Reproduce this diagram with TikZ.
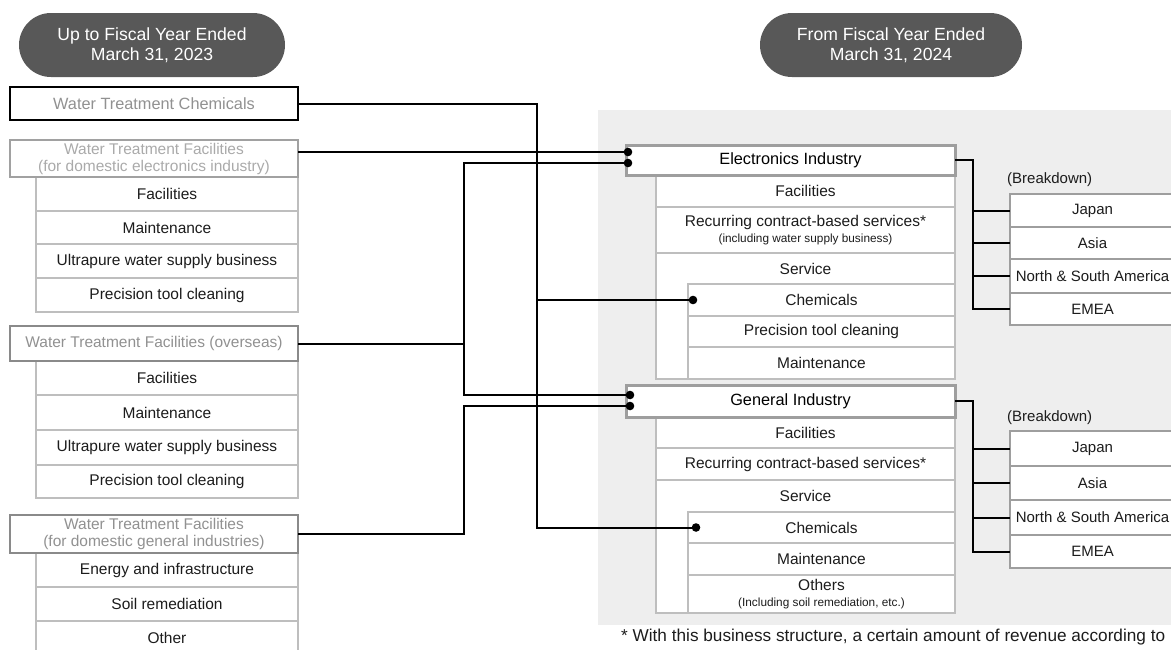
\documentclass[tikz,border=0pt]{standalone}
\usepackage{fontspec}
\setmainfont{Liberation Sans}
\usetikzlibrary{arrows.meta,positioning,calc}
\definecolor{ovalgray}{RGB}{88,88,88}
\definecolor{shadegray}{RGB}{238,238,238}
\definecolor{rowline}{RGB}{190,190,190}
\definecolor{headline}{RGB}{158,158,158}
\definecolor{oldline}{RGB}{138,138,138}
\definecolor{oldtext}{RGB}{145,145,145}
\definecolor{paletext}{RGB}{170,170,170}
\definecolor{inktext}{RGB}{28,28,28}
\newcommand{\itemrow}[6]{\node[itembox,minimum width=#4,minimum height=#5] (#1) at (#2,#3) {#6};}
\newcommand{\regionrow}[4]{\node[regionbox,minimum height=#4] (#1) at (1010,#3) {#2};}
\newcommand{\tapdot}[1]{\fill (#1) circle (4.3pt);}
\newcommand{\smallnote}{\fontsize{11.8}{12.5}\selectfont}
\tikzset{
	basebox/.style={anchor=north west,inner sep=0pt,outer sep=0pt,align=center},
	itembox/.style={basebox,draw=rowline,line width=2pt,fill=white,text=inktext,font=\fontsize{15.5}{17}\selectfont},
	oldbox/.style={basebox,fill=white,line width=2.5pt,text=oldtext,minimum width=288,font=\fontsize{15.5}{17}\selectfont},
	newbox/.style={basebox,draw=headline,fill=white,line width=3pt,text=black,minimum width=329,font=\fontsize{16.3}{18}\selectfont},
	regionbox/.style={basebox,draw=headline,line width=1.5pt,fill=white,text=inktext,minimum width=165,font=\fontsize{15}{17}\selectfont},
	yearpill/.style={fill=ovalgray,rounded corners=32pt,minimum width=266,minimum height=64,inner sep=0pt,text=white,align=center,font=\fontsize{17.6}{20}\selectfont},
	plaintext/.style={inner sep=0pt,text=inktext,font=\fontsize{15.5}{17}\selectfont},
	wire/.style={line width=2pt,draw=black}
}
\begin{document}
\begin{tikzpicture}[x=1pt,y=-1pt]
	\useasboundingbox (0,0) rectangle (1171,649);
	\fill[shadegray] (598,110) rectangle (1171,625);
	\node[yearpill] (yearold) at (152,45) {Up to Fiscal Year Ended\\March 31, 2023};
	\node[yearpill,minimum width=262] (yearnew) at (891,45) {From Fiscal Year Ended\\March 31, 2024};
	% segments up to FY2023
	\node[oldbox,draw=black,line width=2pt,minimum height=33,font=\fontsize{16.3}{18}\selectfont] (wtc) at (10,87) {Water Treatment Chemicals};
	\itemrow{wte1}{36}{177}{262}{34}{Facilities} \itemrow{wte2}{36}{211}{262}{33}{Maintenance}
	\itemrow{wte3}{36}{244}{262}{34}{Ultrapure water supply business} \itemrow{wte4}{36}{278}{262}{34}{Precision tool cleaning}
	\node[oldbox,draw=rowline!85!black,text=paletext,minimum height=37] (wte) at (10,140) {Water Treatment Facilities\\(for domestic electronics industry)};
	\itemrow{wto1}{36}{361}{262}{34}{Facilities} \itemrow{wto2}{36}{395}{262}{35}{Maintenance}
	\itemrow{wto3}{36}{430}{262}{35}{Ultrapure water supply business} \itemrow{wto4}{36}{465}{262}{33}{Precision tool cleaning}
	\node[oldbox,draw=oldline,minimum height=35] (wto) at (10,326) {Water Treatment Facilities (overseas)};
	\itemrow{wtg1}{36}{553}{262}{34}{Energy and infrastructure} \itemrow{wtg2}{36}{587}{262}{34}{Soil remediation}
	\itemrow{wtg3}{36}{621}{262}{34}{Other}
	\node[oldbox,draw=oldline,minimum height=38] (wtg) at (10,515) {Water Treatment Facilities\\(for domestic general industries)};
	% segments from FY2024
	\itemrow{elecs}{656}{253}{299}{126}{} \node[plaintext] (elecsT) at (805.5,268.5) {Service};
	\itemrow{elecc}{688}{284}{267}{32}{Chemicals} \itemrow{elecp}{688}{316}{267}{31}{Precision tool cleaning}
	\itemrow{elecm}{688}{347}{267}{32}{Maintenance}
	\itemrow{elecf}{656}{175}{299}{32}{Facilities}
	\itemrow{elecr}{656}{207}{299}{46}{Recurring contract-based services*\\[-1pt]{\smallnote(including water supply business)}}
	\node[newbox,minimum height=30] (elec) at (626,145) {Electronics Industry};
	\itemrow{gens}{656}{480}{299}{133}{} \node[plaintext] (gensT) at (805.5,496) {Service};
	\itemrow{genc}{688}{512}{267}{31}{Chemicals} \itemrow{genm}{688}{543}{267}{32}{Maintenance}
	\itemrow{geno}{688}{575}{267}{38}{Others\\[-1pt]{\smallnote(Including soil remediation, etc.)}}
	\itemrow{genf}{656}{417}{299}{31}{Facilities} \itemrow{genr}{656}{448}{299}{32}{Recurring contract-based services*}
	\node[newbox,minimum height=32] (genl) at (626,385) {General Industry};
	% regional breakdown
	\node[plaintext,anchor=west,font=\fontsize{15}{17}\selectfont] (brkE) at (1007,180) {(Breakdown)};
	\regionrow{jpE}{Japan}{194}{33} \regionrow{asE}{Asia}{227}{32}
	\regionrow{naE}{North \& South America}{259}{34} \regionrow{emE}{EMEA}{293}{32}
	\node[plaintext,anchor=west,font=\fontsize{15}{17}\selectfont] (brkG) at (1007,418) {(Breakdown)};
	\regionrow{jpG}{Japan}{431}{35} \regionrow{asG}{Asia}{466}{34}
	\regionrow{naG}{North \& South America}{500}{35} \regionrow{emG}{EMEA}{535}{33}
	\node[plaintext,anchor=west,font=\fontsize{17.2}{19}\selectfont] (starnote) at (621,637) {* With this business structure, a certain amount of revenue according to};
	% connectors
	\coordinate (busA) at (537,0); \coordinate (busB) at (464,0);
	\coordinate (dotE1) at ($(elec.west)+(2,-8)$); \coordinate (dotE2) at ($(elec.west)+(2,3)$);
	\coordinate (dotG1) at ($(genl.west)+(4,-6)$); \coordinate (dotG2) at ($(genl.west)+(4,5)$);
	\coordinate (dotCE) at ($(elecc.west)+(5,0)$); \coordinate (dotCG) at ($(genc.west)+(8,0)$);
	\draw[wire] (wtc.east) -| (busA |- dotCG) -- (dotCG);
	\draw[wire] (busA |- dotCE) -- (dotCE);
	\draw[wire] (wte.east |- dotE1) -- (dotE1);
	\draw[wire] (dotE2) -| (busB |- dotG1) -- (dotG1);
	\draw[wire] (wto.east) -- (wto.east -| busB);
	\draw[wire] (wtg.east) -| (busB |- dotG2) -- (dotG2);
	\coordinate (forkE) at ($(elec.east)+(18,0)$); \coordinate (forkG) at ($(genl.east)+(18,0)$);
	\draw[wire] (elec.east) -- (forkE) |- (emE.west);
	\draw[wire] (genl.east) -- (forkG) |- (emG.west);
	\foreach \r in {jpE,asE,naE} \draw[wire] (forkE |- \r.west) -- (\r.west);
	\foreach \r in {jpG,asG,naG} \draw[wire] (forkG |- \r.west) -- (\r.west);
	\foreach \d in {dotE1,dotE2,dotG1,dotG2,dotCE,dotCG} {\tapdot{\d}}
\end{tikzpicture}
\end{document}
